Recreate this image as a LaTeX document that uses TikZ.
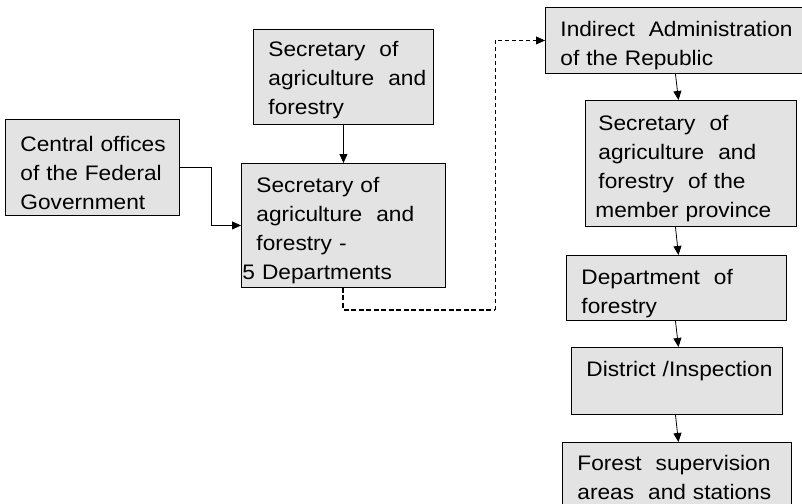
\documentclass[tikz,border=0pt]{standalone}
\usepackage{fontspec}
\setmainfont{Liberation Sans}[FakeStretch=1.08]
\usetikzlibrary{arrows.meta}

% height given to the first text line (moves the text block down)
\newlength{\firstline}
\setlength{\firstline}{25.5pt}

\tikzset{
  orgbox/.style n args={2}{draw=black, line width=0.9pt, fill=black!11,
    anchor=north west, inner xsep=15pt, inner ysep=0pt,
    text width=#1-30pt, minimum height=#2, align=left,
    font=\fontsize{21}{29}\selectfont,
    execute at begin node={\rule{0pt}{\firstline}}},
  lift/.code={\setlength{\firstline}{#1}},
  link/.style={line width=0.8pt, -{Triangle[length=9pt,width=8pt]}},
  dashlink/.style={line width=0.8pt, dash pattern=on 4pt off 3pt},
  thickdash/.style={line width=2pt, dash pattern=on 5pt off 2.5pt}
}
% one unbreakable line of box text
\newcommand{\boxline}[1]{\mbox{#1}}

\begin{document}
\begin{tikzpicture}[x=1pt,y=-1pt]
\useasboundingbox (0,0) rectangle (802,503);

% federal level
\node[orgbox={174pt}{96pt}] (cen) at (5,119)
  {\boxline{Central offices}\\\boxline{of the Federal}\\\boxline{Government}};
\node[orgbox={180pt}{95pt}, lift=21.5pt] (sec1) at (253,29)
  {\boxline{Secretary\ \ of}\\\boxline{agriculture\ \ and}\\\boxline{forestry}};
\node[orgbox={204pt}{124pt}] (sec2) at (241,163)
  {\boxline{Secretary of}\\\boxline{agriculture\ \ and}\\\boxline{forestry -}\\\hspace*{-14pt}\boxline{5 Departments}};

% provincial chain
\node[orgbox={258pt}{66pt}] (ind) at (545,7)
  {\boxline{Indirect\ \ Administration}\\\boxline{of the Republic}};
\node[orgbox={211pt}{126pt}, inner xsep=13pt, text width=185pt] (prov) at (585,100)
  {\boxline{Secretary\ \ of}\\\boxline{agriculture\ \ and}\\\boxline{forestry\ \ of the}\\\hspace*{-3pt}\boxline{member province}};
\node[orgbox={220pt}{65pt}] (dept) at (566,255)
  {\boxline{Department\ \ of}\\\boxline{forestry}};
\node[orgbox={211pt}{67pt}, lift=19.5pt] (dist) at (571,347)
  {\boxline{District /Inspection}\\\mbox{}};
\node[orgbox={229pt}{70pt}, lift=0pt] (forest) at (562,442)
  {\boxline{Forest\ \ supervision}\\\boxline{areas\ \ and stations}};

% connectors
\draw[link] (sec1.south) -- (sec2.north);
\draw[link] (cen.east) -- ++(31,0) |- (sec2.west);

\coordinate (turn) at (495,310);
\draw[thickdash] (sec2.south) |- (turn);
\draw[dashlink, -{Triangle[length=9pt,width=8pt]}] (turn) |- (ind.west);

\draw[link] ([xshift=1pt]ind.south) -- ([xshift=-12.5pt]prov.north);
\draw[link] ([xshift=-15.5pt]prov.south) -- ([xshift=2pt]dept.north);
\draw[link] ([xshift=-1pt]dept.south) -- ([xshift=1.5pt]dist.north);
\draw[link] ([xshift=-1.5pt]dist.south) -- ([xshift=1.5pt]forest.north);
\end{tikzpicture}
\end{document}
